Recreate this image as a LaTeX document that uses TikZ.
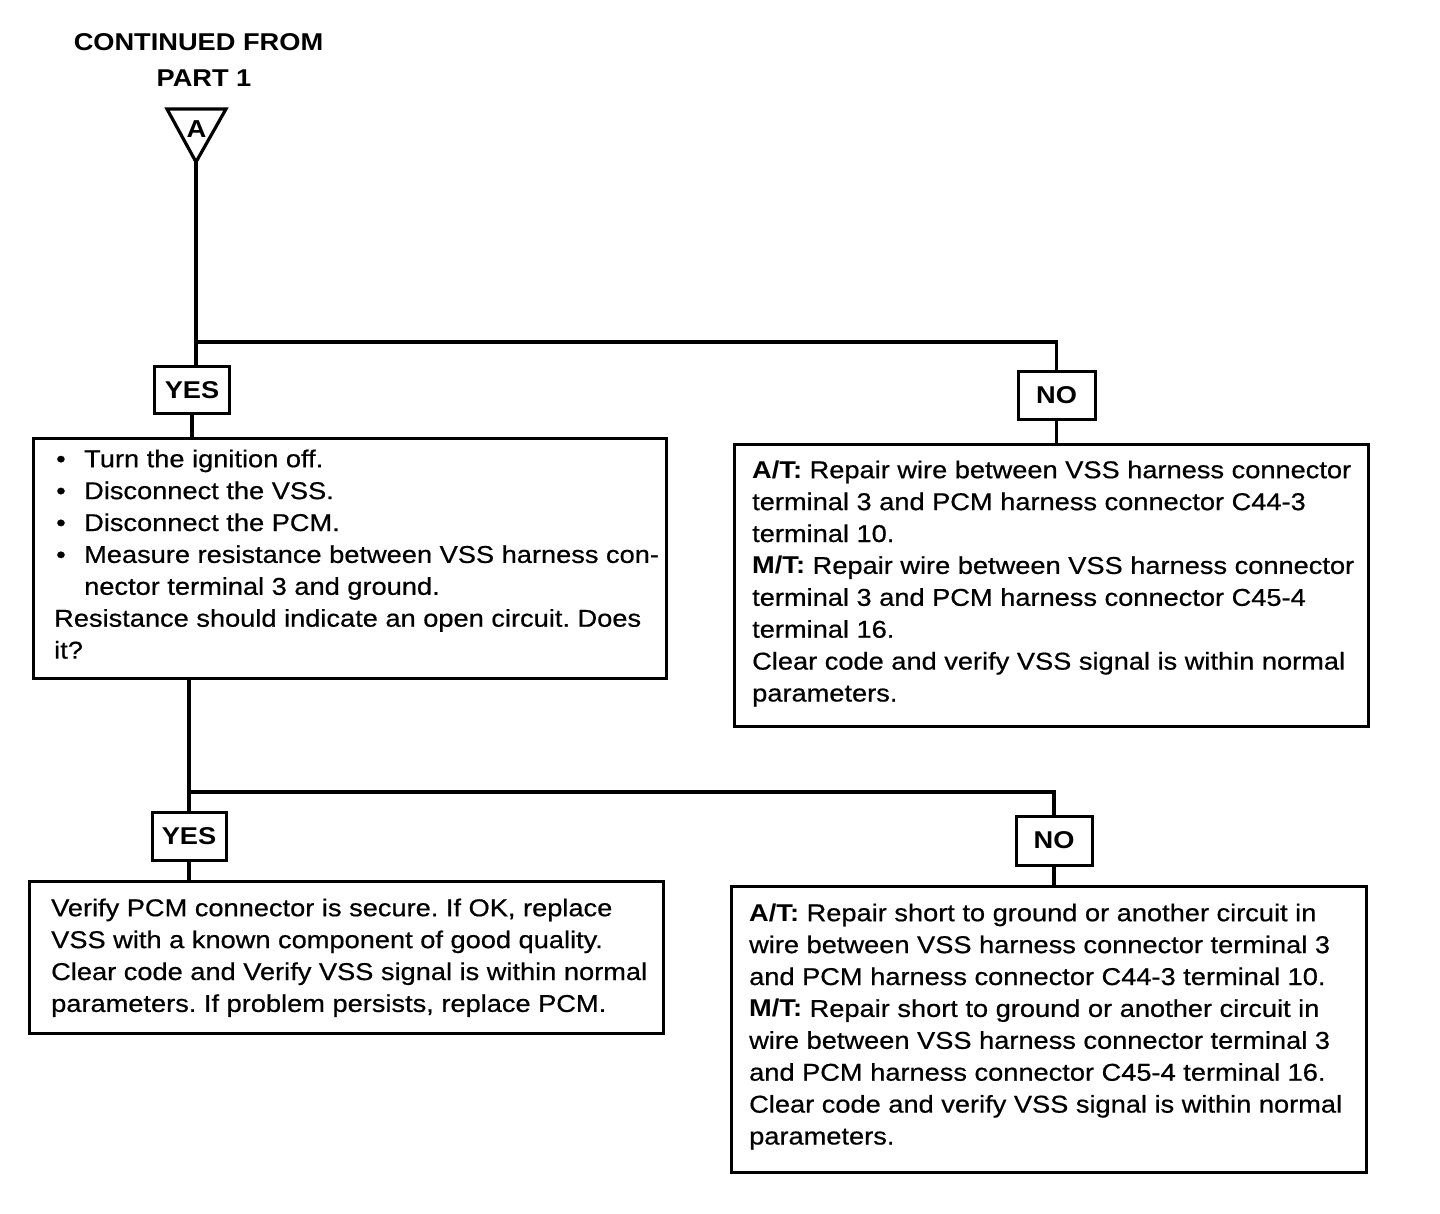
\documentclass[tikz,border=0pt]{standalone}
\usepackage{fontspec}
\setmainfont{Liberation Sans}[FakeStretch=1.12, UprightFeatures={FakeBold=0.6}]
\frenchspacing
\begin{document}
\begin{tikzpicture}[x=1pt,y=-1pt,
  wire/.style={line width=3.2pt},
  boxed/.style={draw, line width=3pt, rectangle, inner sep=0pt},
  lbl/.style={boxed, font=\bfseries\fontsize{24.3}{28}\selectfont},
  txt/.style={anchor=north west, inner sep=0pt, align=left, font=\fontsize{24.3}{31.9}\selectfont},
  ttl/.style={anchor=base, inner sep=0pt, font=\bfseries\fontsize{24.3}{30}\selectfont}]
\useasboundingbox (0,0) rectangle (1440,1214);

% title
\node[ttl] (title1) at (198.5,51) {CONTINUED FROM};
\node[ttl] (title2) at (204,87) {PART 1};

% off-page connector triangle
\coordinate (tl) at (167,109);
\coordinate (tr) at (226,109);
\coordinate (apex) at (196,162);
\draw[wire, line join=miter] (tl) -- (tr) -- (apex) -- cycle;
\node[inner sep=0pt, anchor=base, font=\bfseries\fontsize{24.5}{26}\selectfont] (tri) at (196.5,138) {A};

% label boxes
\node[lbl, minimum width=75pt, minimum height=46pt] (yes1) at (192,390) {YES};
\node[lbl, minimum width=77pt, minimum height=47pt] (no1) at (1056.5,395.5) {NO};
\node[lbl, minimum width=74pt, minimum height=48pt] (yes2) at (189,836) {YES};
\node[lbl, minimum width=76pt, minimum height=49pt] (no2) at (1054,840.5) {NO};

% main boxes
\node[boxed, minimum width=633pt, minimum height=240pt] (box1) at (349.5,558) {};
\node[boxed, minimum width=634pt, minimum height=282pt] (box2) at (1051,585) {};
\node[boxed, minimum width=634pt, minimum height=152pt] (box3) at (346,957) {};
\node[boxed, minimum width=635pt, minimum height=286pt] (box4) at (1048.5,1029) {};

% texts
\node[txt] (t1) at (54,449) {\rule{0pt}{18pt}\hspace*{2pt}\makebox[28pt][l]{•}Turn the ignition off.\\
\hspace*{2pt}\makebox[28pt][l]{•}Disconnect the VSS.\\
\hspace*{2pt}\makebox[28pt][l]{•}Disconnect the PCM.\\
\hspace*{2pt}\makebox[28pt][l]{•}Measure resistance between VSS harness con-\\
\hspace*{30pt}nector terminal 3 and ground.\\
Resistance should indicate an open circuit. Does\\
it?};

\node[txt] (t2) at (752,460) {\rule{0pt}{18pt}\textbf{A/T:} Repair wire between VSS harness connector\\
terminal 3 and PCM harness connector C44-3\\
terminal 10.\\
\textbf{M/T:} Repair wire between VSS harness connector\\
terminal 3 and PCM harness connector C45-4\\
terminal 16.\\
Clear code and verify VSS signal is within normal\\
parameters.};

\node[txt] (t3) at (51,898) {\rule{0pt}{18pt}Verify PCM connector is secure. If OK, replace\\
VSS with a known component of good quality.\\
Clear code and Verify VSS signal is within normal\\
parameters. If problem persists, replace PCM.};

\node[txt] (t4) at (749,903) {\rule{0pt}{18pt}\textbf{A/T:} Repair short to ground or another circuit in\\
wire between VSS harness connector terminal 3\\
and PCM harness connector C44-3 terminal 10.\\
\textbf{M/T:} Repair short to ground or another circuit in\\
wire between VSS harness connector terminal 3\\
and PCM harness connector C45-4 terminal 16.\\
Clear code and verify VSS signal is within normal\\
parameters.};

% connectors
\coordinate (j1) at (196,342);
\draw[wire] (apex) -- (j1) -| (no1.north);
\draw[wire] (j1) -- (j1 |- yes1.north);
\draw[wire] (yes1.south) -- (yes1.south |- box1.north);
\draw[wire] (no1.south) -- (no1.south |- box2.north);

\coordinate (j2) at (189,792);
\draw[wire] (box1.south -| j2) -- (j2) -| (no2.north);
\draw[wire] (j2) -- (j2 |- yes2.north);
\draw[wire] (yes2.south) -- (yes2.south |- box3.north);
\draw[wire] (no2.south) -- (no2.south |- box4.north);
\end{tikzpicture}
\end{document}
